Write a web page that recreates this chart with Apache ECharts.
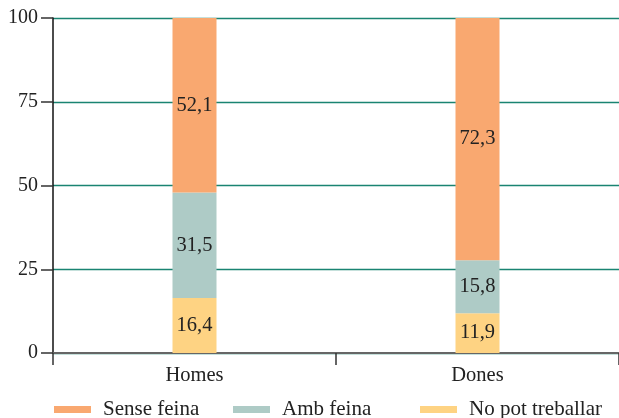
<!DOCTYPE html>
<html>
<head>
<meta charset="utf-8">
<script src="https://cdn.jsdelivr.net/npm/echarts@6/dist/echarts.min.js"></script>
<style>
  html, body { margin: 0; padding: 0; background: #fff; }
  #chart { width: 619px; height: 418px; }
</style>
</head>
<body>
<div id="chart"></div>
<script>
// categories and values
var categories = ['Homes', 'Dones'];
var noPotTreballar = [16.4, 11.9];
var ambFeina = [31.5, 15.8];
var senseFeina = [52.1, 72.3];
var seriesNames = ['Sense feina', 'Amb feina', 'No pot treballar'];

var fontFamily = '"Liberation Serif", "DejaVu Serif", serif';

function fmt(p){
  return String(p.value).replace('.', ',');
}

var labelStyle = {
  show: true,
  position: 'inside',
  formatter: fmt,
  color: '#222',
  fontFamily: fontFamily,
  fontSize: 20.5
};

// one legend per item so each can sit where the original has it
var legendLefts = [54, 233, 420];
var legends = seriesNames.map(function(name, i){
  return {
    data: [name],
    left: legendLefts[i],
    top: 399,
    padding: 0,
    itemWidth: 37,
    itemHeight: 7,
    icon: 'rect',
    textStyle: { fontFamily: fontFamily, fontSize: 21, color: '#222', padding: [0, 0, 0, 7] }
  };
});

var chart = echarts.init(document.getElementById('chart'));
var options = {
  animation: false,
  textStyle: { fontFamily: fontFamily },
  grid: {
    left: 53,
    right: 0,
    top: 18,
    bottom: 65
  },
  legend: legends,
  xAxis: {
    type: 'category',
    data: categories,
    axisLine: { lineStyle: { color: '#666', width: 2 } },
    axisTick: { show: true, length: 12, lineStyle: { color: '#333', width: 1.5 } },
    axisLabel: { fontFamily: fontFamily, fontSize: 20.5, color: '#222', margin: 12 }
  },
  yAxis: {
    type: 'value',
    min: 0,
    max: 100,
    interval: 25,
    axisLine: { show: true, lineStyle: { color: '#111', width: 1.5 } },
    axisTick: { show: true, length: 12, lineStyle: { color: '#333', width: 1.5 } },
    axisLabel: { fontFamily: fontFamily, fontSize: 20, color: '#222', margin: 15 },
    splitLine: { lineStyle: { color: '#1a8472', width: 1.4 } }
  },
  series: [
    {
      name: 'No pot treballar',
      type: 'bar',
      stack: 'total',
      barWidth: 44,
      itemStyle: { color: '#fed383' },
      label: labelStyle,
      data: noPotTreballar
    },
    {
      name: 'Amb feina',
      type: 'bar',
      stack: 'total',
      barWidth: 44,
      itemStyle: { color: '#aecbc6' },
      label: labelStyle,
      data: ambFeina
    },
    {
      name: 'Sense feina',
      type: 'bar',
      stack: 'total',
      barWidth: 44,
      itemStyle: { color: '#f9a870' },
      label: labelStyle,
      data: senseFeina
    }
  ]
};
chart.setOption(options);
</script>
</body>
</html>
